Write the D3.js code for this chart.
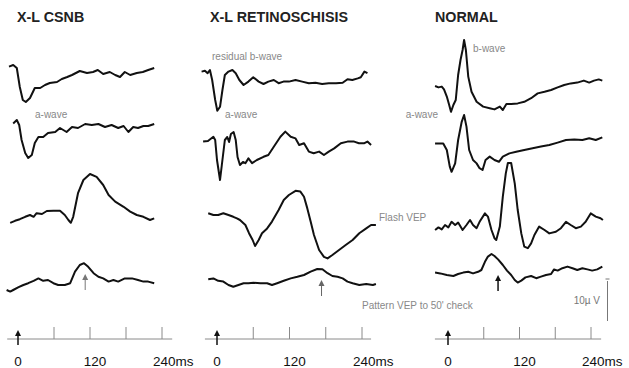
<!DOCTYPE html>
<html><head><meta charset="utf-8">
<script src="https://cdn.jsdelivr.net/npm/d3@7"></script>
<style>body{margin:0;background:#fff}svg{display:block}text{font-family:"Liberation Sans",Arial,sans-serif}</style>
</head><body><svg id="c" width="629" height="368"></svg>
<script>
// ---------- DATA ----------
const panelTitles = ["X-L CSNB", "X-L RETINOSCHISIS", "NORMAL"];
const axisTicks = [0, 60, 120, 180, 240];          // ms
const axisLabels = ["0", "120", "240ms"];
const axisLabelTimes = [0, 120, 240];
const patternArrowTimes = [112, 173, 84];           // ms, P100 markers
const scaleBarUV = 10;                               // µV

// traces: [time ms, amplitude µV]
const csnbRod = [[-15,0.1],[-8,0.5],[-2,-0.25],[3,-5],[8,-8.25],[13,-8.75],[20,-7.75],[28,-5.25],[37,-5.25],[45,-4.5],[53,-4],[65,-3.75],[73,-3],[82,-2.5],[90,-2],[103,-1],[115,-1.5],[125,-1.25],[133,-0.75],[142,-1.75],[153,-1.25],[162,-2],[170,-2.5],[178,-1.25],[187,-2],[198,-1.5],[208,-1.25],[217,-0.75],[227,-0.25]];
const csnbMax = [[-8,-0.1],[-2,0.75],[2,-0.5],[6,-4.25],[12,-7.5],[17,-8.75],[23,-8],[28,-5],[34,-3.5],[42,-3.5],[50,-2.5],[62,-2.25],[70,-1.25],[81,-2.25],[90,-1],[100,-1.25],[112,-0.25],[123,-0.5],[134,-0.25],[145,-1],[156,-0.5],[167,-1.25],[176,-0.75],[184,-2.25],[192,-1],[200,-1.25],[209,-0.75],[217,-0.75],[227,-0.25]];
const csnbFlash = [[-13,-0.2],[-5,0.3],[3,0.7],[12,1.3],[20,1.75],[26,1.3],[31,2.2],[40,2],[48,2.75],[59,2.8],[70,2.8],[78,1.75],[84,0.5],[88,-0.2],[92,1.3],[100,7.2],[109,10.5],[120,12],[131,11.3],[142,9.25],[151,6.75],[162,5.1],[176,3.8],[187,2.6],[198,1.75],[209,1.3],[220,0.5],[227,0.9]];
const csnbPattern = [[-19,0],[-13,-0.4],[-8,0],[1,0.7],[9,1.25],[17,1.7],[26,2.3],[34,2.9],[42,2.3],[50,2.5],[59,1.7],[67,1.25],[78,1.25],[87,1.7],[95,4.6],[103,6.25],[110,6.7],[117,5.8],[126,4.2],[134,3.3],[142,2.9],[151,2.1],[159,2.5],[167,2.1],[178,2.9],[190,2.9],[200,2.5],[209,2.1],[217,2.1],[227,1.7]];

const rsRod = [[-25.5,0.1],[-20,0.3],[-15.5,-0.3],[-11.7,0.5],[-8,-2],[-3,-7],[0.5,-9.7],[5,-8.7],[9,-4.5],[13,-0.75],[19,0.1],[25.5,0.5],[31,-0.3],[37,-2],[44,-3.25],[52,-2.4],[60,-1.3],[69,-2.4],[77,-3],[85,-2.4],[94,-2],[102,-2.8],[110,-2.4],[119,-2.4],[130,-2],[141,-2.4],[152,-2.8],[163,-2.7],[174,-3],[185,-2.8],[197,-2.8],[208,-2.7],[216,-1.8],[224,-2],[233,-1.6],[238,-1.3],[244,0.1],[249,-0.3]];
const rsMax = [[-23,0.1],[-15,0.25],[-6,1.3],[-3,0.5],[0,-4.5],[5,-9.5],[8,-5.75],[13,0.5],[17,1.25],[20,0],[23,2],[27.5,2.5],[31,0.5],[34,-3.75],[38,-5.75],[43,-5],[47,-5.3],[52,-4.1],[58,-5.3],[66,-4.5],[77,-3.7],[85,-3.25],[94,-1.2],[105,1.3],[113,2.6],[122,1.3],[130,0.9],[136,-0.75],[144,-0.3],[152,-2.4],[160,-2.8],[169,-2.4],[177,-3.25],[185,-2.4],[194,-1.6],[205,-0.3],[216,0.1],[227,0.1],[235,-0.3],[244,-0.3],[249,0.1],[255,-0.75]];
const rsFlash = [[-14.5,0.2],[-6,-0.25],[2,-0.25],[10.5,0.2],[19,-0.25],[27,-0.7],[33,-1.1],[38,-1.5],[47,-2.75],[53,-4.8],[59,-6.5],[63,-8],[69,-6.5],[74.5,-4.8],[83,-3.6],[91,-1.9],[102,1],[110.5,3.5],[119,4.75],[130,5.8],[138,5.6],[144,4.3],[149.5,1.4],[155,-1.9],[160.5,-5.25],[169,-9],[177,-10.7],[183,-11.1],[191,-10.25],[202,-9],[213,-7.75],[224.5,-6.5],[235.5,-4.8],[247,-3.6],[255,-2.75],[263,-2.75]];
const rsPattern = [[-14.5,0.2],[-6,0.4],[2,-0.2],[10.5,-0.4],[19,-1.25],[27,-1.7],[35.5,-1.25],[44,-0.8],[52,-0.8],[60.5,-0.7],[72,-0.8],[83,-0.8],[91,-1.25],[99.5,-0.8],[110.5,-0.2],[122,0.4],[133,0.8],[144,1.25],[155,2.1],[166,2.75],[174.5,2.7],[183,1.7],[191,1],[199.5,0.8],[208,0.4],[216,-0.4],[224.5,-0.8],[235.5,-1.25],[247,-1],[258,-1.25],[263,-1]];

const nRod = [[-21.7,0.25],[-16,-0.1],[-10.5,0.1],[-6.7,-0.6],[-2,-2.4],[2,-4.5],[5,-6.2],[9,-4.5],[13,-3.25],[17,3],[21,6.75],[24.5,9.25],[27,11.75],[30,9.25],[34,2.6],[39.5,-1.2],[48,-3.7],[59,-4.9],[70,-5.3],[78,-5.6],[87,-4.9],[92,-5.75],[98,-4.25],[106,-4.25],[117,-4.1],[128,-3.7],[139.5,-2.8],[150.5,-1.6],[162,-1.2],[173,-0.75],[184,-0.1],[195,0.5],[206,0.9],[217,1.1],[228,1.6],[237,1.1],[245,1.6],[253,1.9],[259,1.6]];
const nMax = [[-21.7,-0.1],[-8,-0.1],[-2,-1.75],[3,-5.9],[6,-7.2],[12,-5.1],[17,0.75],[23,5.3],[27,7],[31,4.1],[35.5,-1.75],[42,-4.25],[48,-5.1],[53,-6.3],[58,-6.75],[63,-4.25],[70,-3.4],[78,-4.25],[85.5,-4.7],[92,-3.4],[103,-2.6],[114.5,-2.2],[128,-1.75],[142,-1.3],[156,-0.9],[170,-0.5],[184,0.1],[198,0.75],[212,0.9],[225.5,0.75],[237,1.2],[248,0.75],[259,1.4]];
const nFlash = [[-21.7,-0.25],[-16,0.4],[-10.5,-0.1],[-5,1],[0.5,0.4],[6,1.8],[12,1],[17,1.6],[24.5,-0.25],[31,1],[37,2.25],[42,1],[48,0.2],[53,1.8],[62,3.9],[67,3.1],[73,-0.25],[78,-2.3],[81,-2.75],[87,0.6],[92,8.1],[97,13.9],[100.5,16.5],[106,16.5],[112,11.4],[117,4.75],[123,-1.1],[128,-4.4],[134,-4.8],[139.5,-3.6],[145,-1.5],[153,0.6],[162,-0.25],[170,-1.1],[181,-0.7],[189.5,0.2],[198,1.8],[206,1],[214.5,0.2],[223,0.6],[231,1.8],[239.5,3.9],[248,3.1],[256,2.7],[260,2.25]];
const nPattern = [[-21.7,0.1],[-13,-0.1],[-2,-0.5],[9,-0.75],[17,-0.25],[25.5,0.1],[34,0.3],[42,-0.1],[50.5,0.3],[56,0.75],[62,2.8],[67,4.1],[73,4.75],[78,4.25],[84,3.4],[92,2],[99,0.6],[106,-0.5],[112,-1.75],[117,-2.4],[123,-1.9],[130,-1.1],[139.5,-0.75],[148,-1.3],[156,-0.9],[164.5,-0.5],[173,-0.25],[178,0.9],[184,0.6],[192,1.2],[200.5,1.6],[209,1.2],[217,0.75],[225.5,1.2],[234,0.9],[242,0.6],[250.5,0.9],[259,1.6]];

const panelTraces = [
  [csnbRod, csnbMax, csnbFlash, csnbPattern],
  [rsRod, rsMax, rsFlash, rsPattern],
  [nRod, nMax, nFlash, nPattern]
];

// ---------- LAYOUT ----------
const svg = d3.select("#c");
const xRanges = [[18, 162], [217, 362], [448, 591]];
const baselines = [[67, 123, 222, 290], [72, 142, 214, 280], [87, 143, 229, 273]];
const pxPerUV = 4;
const titleX = [17, 210, 435];
const axisY = 339;
const axisExtent = [[-18, 257], [-20, 255], [-22, 257]];
const arrowTip = [274, 280, 275], arrowBase = [290, 296, 291];
const arrowColor = ["#777", "#666", "#111"];

function arrow(g, x, tip, base, color, w) {
  g.append("line").attr("x1", x).attr("x2", x).attr("y1", base).attr("y2", tip + 4)
    .attr("stroke", color).attr("stroke-width", w);
  g.append("path").attr("d", `M${x},${tip} L${x - 3},${tip + 6} L${x + 3},${tip + 6} Z`).attr("fill", color);
}

panelTitles.forEach((title, p) => {
  const g = svg.append("g");
  const x = d3.scaleLinear().domain([0, 240]).range(xRanges[p]);
  g.append("text").attr("x", titleX[p]).attr("y", 22).attr("font-size", 14.3).attr("font-weight", "bold")
    .attr("fill", "#222").text(title);

  panelTraces[p].forEach((tr, i) => {
    const b = baselines[p][i];
    const y = d3.scaleLinear().domain([-10, 10]).range([b + 10 * pxPerUV, b - 10 * pxPerUV]);
    const line = d3.line().x(d => x(d[0])).y(d => y(d[1])).curve(d3.curveLinear);
    g.append("path").datum(tr).attr("d", line).attr("fill", "none")
      .attr("stroke", "#111").attr("stroke-width", 2).attr("stroke-linejoin", "round");
  });

  // pattern VEP marker
  arrow(g, x(patternArrowTimes[p]), arrowTip[p], arrowBase[p], arrowColor[p], p === 2 ? 1.5 : 1);

  // time axis
  g.append("line").attr("x1", x(axisExtent[p][0])).attr("x2", x(axisExtent[p][1]))
    .attr("y1", axisY).attr("y2", axisY).attr("stroke", "#8a8a8a").attr("stroke-width", 1);
  g.selectAll(".tk").data(axisTicks.slice(1)).enter().append("line")
    .attr("x1", d => x(d)).attr("x2", d => x(d)).attr("y1", axisY - 12).attr("y2", axisY)
    .attr("stroke", "#8a8a8a").attr("stroke-width", 1);
  arrow(g, x(0), 330, 345, "#111", 1.5);
  axisLabels.forEach((lab, k) => {
    const t = axisLabelTimes[k];
    const last = k === axisLabels.length - 1;
    g.append("text").attr("x", last ? x(t) - 9 : x(t) + (k === 1 ? 5 : 0)).attr("y", 366)
      .attr("text-anchor", last ? "start" : "middle").attr("font-size", 13.5)
      .attr("fill", "#111").text(lab);
  });
});

// annotations
const ann = [
  ["a-wave", 35, 118, "start"], ["residual b-wave", 212, 60, "start"], ["a-wave", 225, 118, "start"],
  ["b-wave", 473, 52, "start"], ["a-wave", 438, 118, "end"], ["Flash VEP", 379, 221, "start"],
  ["Pattern VEP to 50' check", 362, 309, "start"]
];
ann.forEach(a => svg.append("text").attr("x", a[1]).attr("y", a[2]).attr("text-anchor", a[3])
  .attr("font-size", 10).attr("fill", "#888").text(a[0]));

// scale bar (10 µV)
const sb = d3.scaleLinear().domain([0, scaleBarUV]).range([321, 321 - scaleBarUV * pxPerUV]);
svg.append("line").attr("x1", 607.5).attr("x2", 607.5).attr("y1", sb(0)).attr("y2", sb(scaleBarUV))
  .attr("stroke", "#777").attr("stroke-width", 1);
svg.append("line").attr("x1", 605.5).attr("x2", 609.5).attr("y1", sb(scaleBarUV) - 2).attr("y2", sb(scaleBarUV) - 2)
  .attr("stroke", "#777").attr("stroke-width", 1);
svg.append("text").attr("x", 600).attr("y", 304).attr("text-anchor", "end").attr("font-size", 10)
  .attr("fill", "#777").text("10µ V");
</script></body></html>
